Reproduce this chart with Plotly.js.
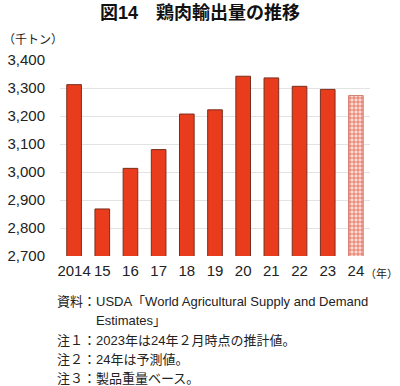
<!DOCTYPE html>
<html>
<head>
<meta charset="utf-8">
<script src="https://cdn.plot.ly/plotly-3.0.1.min.js"></script>
<style>html,body{margin:0;padding:0;background:#fff;}#chart{width:400px;height:386px;}</style>
</head>
<body>
<div id="chart"></div>
<script>
// Data
var years = ["2014", "15", "16", "17", "18", "19", "20", "21", "22", "23", "24"];
var exportsKt = [3312, 2868, 3013, 3080, 3207, 3222, 3342, 3336, 3306, 3295, 3273];
var forecastFlags = [false, false, false, false, false, false, false, false, false, false, true];
var yTicks = [2700, 2800, 2900, 3000, 3100, 3200, 3300, 3400];

var titleText = "図14　鶏肉輸出量の推移";
var unitText = "（千トン）";
var yearUnitText = "（年）";
var notes = [
  "資料：USDA「World Agricultural Supply and Demand",
  "Estimates」",
  "注１：2023年は24年２月時点の推計値。",
  "注２：24年は予測値。",
  "注３：製品重量ベース。"
];

var FONT = "Liberation Sans, Arial, Noto Sans CJK JP, sans-serif";
var W = 400, H = 386, L = 60, R = 30, T = 60, B = 130;
var pw = W - L - R, ph = H - T - B;
function px(x) { return (x - L) / pw; }
function py(y) { return (T + ph - y) / ph; }

var actualX = [], actualY = [], fcX = [], fcY = [];
for (var i = 0; i < years.length; i++) {
  if (forecastFlags[i]) { fcX.push(years[i]); fcY.push(exportsKt[i]); }
  else { actualX.push(years[i]); actualY.push(exportsKt[i]); }
}

var traces = [
  {
    type: "bar", x: actualX, y: actualY,
    marker: { color: "#e83c1c", line: { color: "#7a2e1e", width: 1 } },
    hoverinfo: "x+y"
  },
  {
    type: "bar", x: fcX, y: fcY,
    marker: {
      color: "#fbd9d2",
      line: { color: "#d0806f", width: 1 },
      pattern: { shape: "+", fgcolor: "#e04a30", bgcolor: "#fbdcd5", size: 4, solidity: 0.3 }
    },
    hoverinfo: "x+y"
  }
];

var annotations = [
  { text: unitText, xref: "paper", yref: "paper", x: px(1), y: py(40), xanchor: "left", yanchor: "middle",
    showarrow: false, font: { size: 12, color: "#222", family: FONT } },
  { text: yearUnitText, xref: "paper", yref: "paper", x: px(399), y: py(273), xanchor: "right", yanchor: "middle",
    showarrow: false, borderpad: 0, font: { size: 11, color: "#222", family: FONT } }
];
var noteX = [55, 94, 55, 55, 55];
var noteY = [301, 320, 340, 359, 378];
for (var k = 0; k < notes.length; k++) {
  annotations.push({ text: notes[k], xref: "paper", yref: "paper", x: px(noteX[k]), y: py(noteY[k]),
    xanchor: "left", yanchor: "middle", showarrow: false, align: "left",
    font: { size: 13, color: "#222", family: FONT } });
}

var layout = {
  width: W, height: H,
  margin: { l: L, r: R, t: T, b: B, pad: 0 },
  paper_bgcolor: "#fff", plot_bgcolor: "#fff",
  showlegend: false,
  barmode: "overlay",
  bargap: 0.48,
  font: { family: FONT, color: "#222" },
  title: { text: "<b>" + titleText + "</b>", xref: "container", yref: "container", x: 0.5, y: 1 - 13 / H,
    xanchor: "center", yanchor: "middle", font: { size: 18, color: "#111", family: FONT } },
  xaxis: {
    type: "category", categoryorder: "array", categoryarray: years,
    range: [-0.5, years.length - 0.5],
    showgrid: false, zeroline: false, showline: false, ticks: "",
    tickfont: { size: 15, color: "#222", family: FONT },
    ticklabelstandoff: 4
  },
  yaxis: {
    range: [2700, 3400], tickvals: yTicks,
    ticktext: yTicks.map(function(v){return v.toLocaleString("en-US");}),
    showgrid: true, gridcolor: "#e3e3e3", gridwidth: 1, zeroline: false, showline: false, ticks: "",
    tickfont: { size: 15, color: "#222", family: FONT },
    ticklabelstandoff: 14
  },
  annotations: annotations
};

Plotly.newPlot("chart", traces, layout, { staticPlot: true, displayModeBar: false });
</script>
</body>
</html>
